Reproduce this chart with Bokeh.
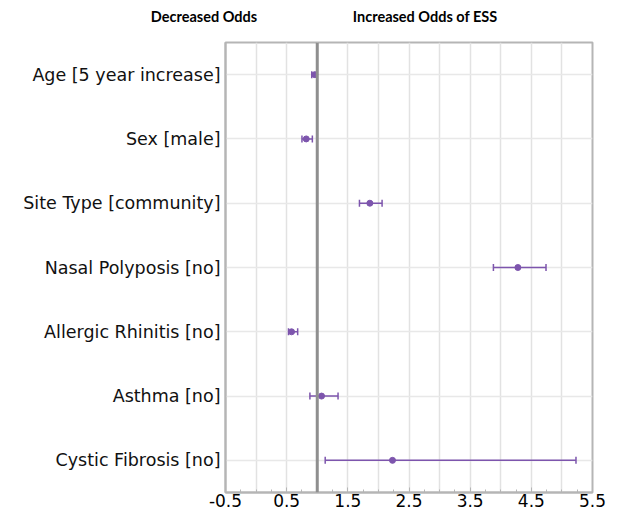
from bokeh.plotting import figure
from bokeh.layouts import column
from bokeh.models import (ColumnDataSource, FactorRange, FixedTicker, Span, Whisker,
                          TeeHead, Div)
from bokeh.embed import file_html
from bokeh.resources import INLINE

categories = ["Age [5 year increase]", "Sex [male]", "Site Type [community]",
              "Nasal Polyposis [no]", "Allergic Rhinitis [no]", "Asthma [no]",
              "Cystic Fibrosis [no]"]
odds_ratio = [0.96, 0.82, 1.86, 4.28, 0.58, 1.07, 2.23]
ci_low = [0.91, 0.75, 1.69, 3.88, 0.53, 0.88, 1.13]
ci_high = [0.99, 0.92, 2.06, 4.74, 0.68, 1.34, 5.23]
x_ticks = [-0.5, 0.5, 1.5, 2.5, 3.5, 4.5, 5.5]
x_tick_labels = ["-0.5", "0.5", "1.5", "2.5", "3.5", "4.5", "5.5"]
x_grid = [-0.5, 0.0, 0.5, 1.0, 1.5, 2.0, 2.5, 3.0, 3.5, 4.0, 4.5, 5.0, 5.5]
x_minor = [v / 4 for v in range(-2, 23)]
header_left = "Decreased Odds"
header_right = "Increased Odds of ESS"

purple = "#7d55ad"
W = 608
HDR_H = 30
MAIN_H = 482

# ---- header strip ----
span_style = ("position:absolute;top:7px;font-family:Lato;font-weight:bold;"
              "font-size:14.5px;color:black;white-space:nowrap;"
              "transform:translateX(-50%);")
hdr = Div(width=W, height=HDR_H, margin=0,
          text=(f'<div style="position:relative;width:{W}px;height:{HDR_H}px;">'
                f'<span style="{span_style}left:204px;">{header_left}</span>'
                f'<span style="{span_style}left:425px;">{header_right}</span>'
                '</div>'))

# ---- main forest plot ----
src = ColumnDataSource(dict(cat=categories, orv=odds_ratio, lo=ci_low, hi=ci_high))

p = figure(width=W, height=MAIN_H, output_backend="svg", toolbar_location=None,
           y_range=FactorRange(factors=list(reversed(categories))),
           x_range=(-0.5, 5.5), margin=0,
           min_border_left=225, min_border_right=16, min_border_top=12,
           min_border_bottom=20)

p.outline_line_color = "#b5b5b5"
p.outline_line_width = 2

p.xgrid.ticker = FixedTicker(ticks=x_grid)
p.xgrid.grid_line_color = "#e2e2e2"
p.xgrid.grid_line_width = 1.5
p.ygrid.grid_line_color = "#e8e8e8"
p.ygrid.grid_line_width = 1.5

p.xaxis.ticker = FixedTicker(ticks=x_ticks, minor_ticks=x_minor)
p.xaxis.major_label_overrides = {t: s for t, s in zip(x_ticks, x_tick_labels)}
p.xaxis.axis_line_color = "#b5b5b5"
p.xaxis.axis_line_width = 2
p.xaxis.major_tick_in = 5
p.xaxis.major_tick_out = 0
p.xaxis.minor_tick_in = 3
p.xaxis.minor_tick_out = 0
p.xaxis.major_tick_line_color = "#b5b5b5"
p.xaxis.minor_tick_line_color = "#b5b5b5"
p.xaxis.major_label_text_font = "DejaVu Sans"
p.xaxis.major_label_text_font_size = "17px"
p.xaxis.major_label_text_color = "black"
p.xaxis.major_label_standoff = 1

p.yaxis.axis_line_color = "#b5b5b5"
p.yaxis.axis_line_width = 2
p.yaxis.major_tick_in = 0
p.yaxis.major_tick_out = 0
p.yaxis.major_label_text_font = "DejaVu Sans"
p.yaxis.major_label_text_font_size = "17.5px"
p.yaxis.major_label_text_color = "#111111"
p.yaxis.major_label_standoff = 5

p.add_layout(Span(location=1, dimension="height", line_color="#8f8f8f", line_width=3))

whisk = Whisker(source=src, base="cat", lower="lo", upper="hi", dimension="width",
                line_color=purple, line_width=1.5,
                lower_head=TeeHead(size=7, line_color=purple, line_width=1.5),
                upper_head=TeeHead(size=7, line_color=purple, line_width=1.5))
p.add_layout(whisk)
p.scatter(x="orv", y="cat", source=src, size=6, color=purple)

layout = column(hdr, p, spacing=0)
open("out.html", "w").write(file_html(layout, INLINE))
